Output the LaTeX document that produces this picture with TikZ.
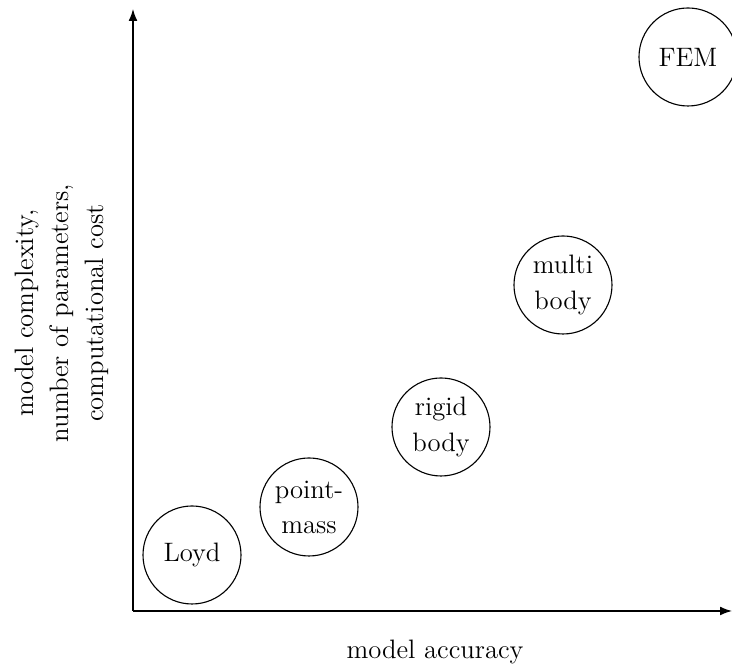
\documentclass[tikz,border=0pt]{standalone}
\usetikzlibrary{arrows.meta}
\begin{document}
\begin{tikzpicture}[x=0.45pt,y=-0.45pt,
  every node/.style={font=\large},
  model/.style={circle,draw,line width=0.5pt,minimum size=1.55cm,inner sep=0pt,align=center},
  axis/.style={line width=0.6pt,-{Latex[length=5.4pt,width=4pt]}}]
\useasboundingbox (0,0) rectangle (732,668);
\coordinate (O) at (133,611);
\coordinate (ytop) at (133,9);
\coordinate (xend) at (732,611);
\draw[axis] (O) -- (ytop);
\draw[axis] (O) -- (xend);
\node[model] (loyd) at (192,555) {Loyd};
\node[model] (pm) at (309,507) {point-\\[1.8pt]mass};
\node[model] (rigid) at (441,427) {rigid\\[1.8pt]body};
\node[model] (multi) at (563,285) {multi\\[1.8pt]body};
\node[model] (fem) at (688,57) {FEM};
\node (xl) at (435,652) {model accuracy};
\node[rotate=90,align=center] (yl) at (62,313) {model complexity,\\[1.8pt]number of parameters,\\[1.8pt]computational cost};
\end{tikzpicture}
\end{document}
